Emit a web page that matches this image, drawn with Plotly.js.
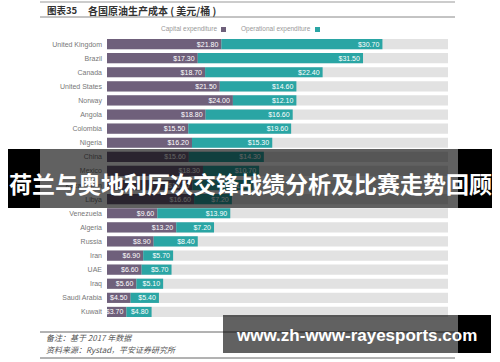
<!DOCTYPE html>
<html><head><meta charset="utf-8">
<script src="https://cdn.plot.ly/plotly-3.0.1.min.js"></script>
<style>html,body{margin:0;padding:0;background:#fff;}#chart{width:500px;height:362px;}</style>
</head><body><div id="chart"></div>
<script>
const countries = ["United Kingdom","Brazil","Canada","United States","Norway","Angola","Colombia","Nigeria","China","Mexico","Kazakhstan","Libya","Venezuela","Algeria","Russia","Iran","UAE","Iraq","Saudi Arabia","Kuwait"];
const capital = [21.80,17.30,18.70,21.50,24.00,18.80,15.50,16.20,15.60,18.30,16.30,16.60,9.60,13.20,8.90,6.90,6.60,5.60,4.50,3.70];
const opex = [30.70,31.50,22.40,14.60,12.10,16.60,19.60,15.30,14.30,10.70,11.50,7.20,13.90,7.20,8.40,5.70,5.70,5.10,5.40,4.80];
const trackMax = [65,65,65,65,65,65,65,65,65,65,65,65,65,65,65,65,65,65,65,65];
const seriesNames = ["Capital expenditure","Operational expenditure"];
const chartTitleA = "图表35";
const chartTitleB = "各国原油生产成本 ( 美元/桶 )";
const note1 = "备注：基于 2017 年数据";
const note2 = "资料来源：Rystad，平安证券研究所";
const banner1 = "荷兰与奥地利历次交锋战绩分析及比赛走势回顾";
const banner2 = "www.zh-www-rayesports.com";

const W=500,H=362,L=107,R=52,T=37,B=43;
const pw=W-L-R, ph=H-T-B;
const px=x=>(x-L)/pw, py=y=>1-(y-T)/ph;
const fmt=v=>"$"+v.toFixed(2);
const capColor="#6f607b", opColor="#2aa5a4";

const traces=[
 {type:"bar",orientation:"h",y:countries,x:trackMax,marker:{color:"#e2e2e2"},hoverinfo:"skip",showlegend:false},
 {type:"bar",orientation:"h",y:countries,x:capital,base:0,name:seriesNames[0],marker:{color:capColor},
  text:capital.map(fmt),textposition:"inside",insidetextanchor:"end",constraintext:"none",
  textfont:{color:"#fff",size:7,family:"Liberation Sans, Arial"},showlegend:false},
 {type:"bar",orientation:"h",y:countries,x:opex,base:capital,name:seriesNames[1],marker:{color:opColor},
  text:opex.map(fmt),textposition:"inside",insidetextanchor:"end",constraintext:"none",
  textfont:{color:"#fff",size:7,family:"Liberation Sans, Arial"},showlegend:false}
];

const shapes=[
 {type:"line",xref:"paper",yref:"paper",x0:px(40),x1:px(455),y0:py(2),y1:py(2),line:{color:"#999",width:1}},
 {type:"line",xref:"paper",yref:"paper",x0:px(40),x1:px(455),y0:py(17),y1:py(17),line:{color:"#888",width:1}},
 {type:"rect",xref:"paper",yref:"paper",x0:px(221),x1:px(226),y0:py(27),y1:py(32),fillcolor:capColor,line:{width:0}},
 {type:"rect",xref:"paper",yref:"paper",x0:px(315),x1:px(320),y0:py(27),y1:py(32),fillcolor:opColor,line:{width:0}},
 {type:"line",xref:"paper",yref:"paper",x0:px(40),x1:px(455),y0:py(332),y1:py(332),line:{color:"#666",width:1}},
 {type:"line",xref:"paper",yref:"paper",x0:px(40),x1:px(455),y0:py(358),y1:py(358),line:{color:"#666",width:1}},
 {type:"rect",layer:"above",xref:"paper",yref:"paper",x0:px(40),x1:px(458),y0:py(149),y1:py(208),fillcolor:"rgba(0,0,0,0.62)",line:{width:0}},
 {type:"rect",layer:"above",xref:"paper",yref:"paper",x0:px(8),x1:px(40),y0:py(149),y1:py(208),fillcolor:"#000",line:{width:0}},
 {type:"rect",layer:"above",xref:"paper",yref:"paper",x0:px(458),x1:px(492),y0:py(149),y1:py(208),fillcolor:"#000",line:{width:0}},
 {type:"rect",layer:"above",xref:"paper",yref:"paper",x0:px(223),x1:px(458),y0:py(315),y1:py(353),fillcolor:"rgba(0,0,0,0.62)",line:{width:0}},
 {type:"rect",layer:"above",xref:"paper",yref:"paper",x0:px(458),x1:px(491),y0:py(315),y1:py(353),fillcolor:"#000",line:{width:0}}
];

const annotations=[
 {xref:"paper",yref:"paper",x:px(45),y:py(10),xanchor:"left",yanchor:"middle",showarrow:false,text:"<b>"+chartTitleA+"</b>",font:{size:9.5,color:"#333",family:"Noto Sans CJK SC"}},
 {xref:"paper",yref:"paper",x:px(86),y:py(10),xanchor:"left",yanchor:"middle",showarrow:false,text:"<b>"+chartTitleB+"</b>",font:{size:10,color:"#333",family:"Noto Sans CJK SC"}},
 {xref:"paper",yref:"paper",x:px(219),y:py(29.5),xanchor:"right",yanchor:"middle",showarrow:false,text:seriesNames[0],font:{size:6.5,color:"#999",family:"Liberation Sans, Arial"}},
 {xref:"paper",yref:"paper",x:px(313),y:py(29.5),xanchor:"right",yanchor:"middle",showarrow:false,text:seriesNames[1],font:{size:6.5,color:"#999",family:"Liberation Sans, Arial"}},
 {xref:"paper",yref:"paper",x:px(44),y:py(337),xanchor:"left",yanchor:"middle",showarrow:false,text:"<i>"+note1+"</i>",font:{size:8,color:"#555",family:"Noto Sans CJK SC"}},
 {xref:"paper",yref:"paper",x:px(44),y:py(349),xanchor:"left",yanchor:"middle",showarrow:false,text:"<i>"+note2+"</i>",font:{size:8,color:"#555",family:"Noto Sans CJK SC"}},
 {xref:"paper",yref:"paper",x:px(250),y:py(183),xanchor:"center",yanchor:"middle",showarrow:false,text:"<b>"+banner1+"</b>",font:{size:23,color:"#fff",family:"Noto Sans CJK SC"}},
 {xref:"paper",yref:"paper",x:px(356),y:py(335),xanchor:"center",yanchor:"middle",showarrow:false,text:"<b>"+banner2+"</b>",font:{size:17,color:"#fff",family:"Liberation Sans, Arial"}}
];

const layout={
 width:W,height:H,margin:{l:L,r:R,t:T,b:B,pad:0},
 paper_bgcolor:"#fff",plot_bgcolor:"#fff",
 barmode:"overlay",bargap:0.28,showlegend:false,
 xaxis:{range:[0,65],visible:false,fixedrange:true},
 yaxis:{autorange:"reversed",showgrid:false,zeroline:false,showline:false,ticks:"",ticklabelstandoff:4,
   tickfont:{size:7,color:"#777",family:"Liberation Sans, Arial"}},
 shapes:shapes,annotations:annotations
};
Plotly.newPlot("chart",traces,layout,{displayModeBar:false,staticPlot:true});
</script></body></html>
